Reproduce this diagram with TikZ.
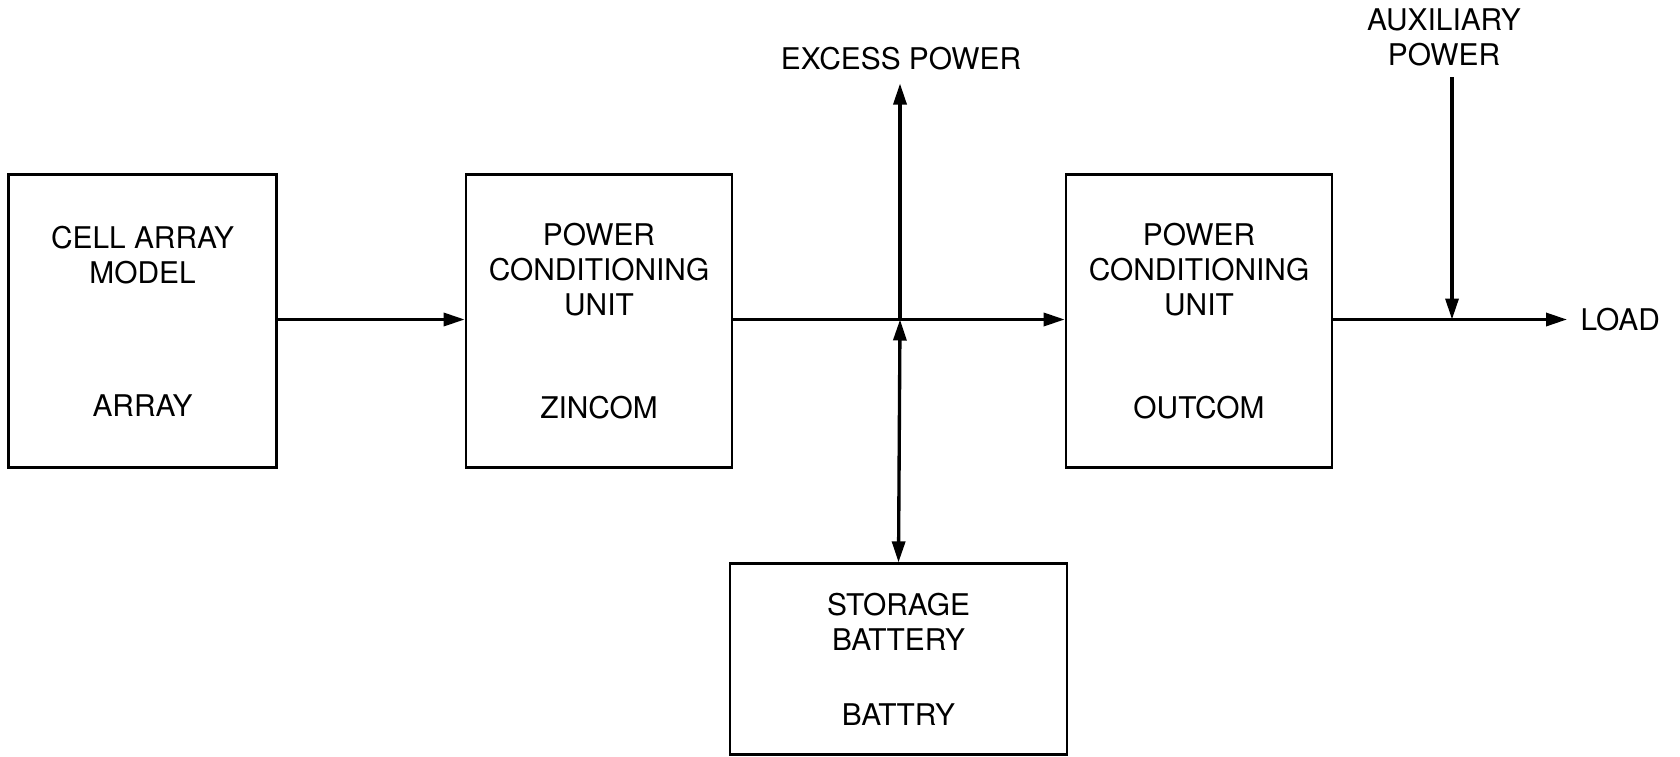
\documentclass[tikz,border=0pt]{standalone}
\usepackage{fontspec}
\setmainfont{TeX Gyre Heros}
\usepackage{tikz}
\usetikzlibrary{arrows.meta}

\begin{document}
\begin{tikzpicture}[
        unitbox/.style={draw, line width=1.5pt, align=center, inner sep=0pt},
        flow/.style={line width=1.9pt, -{Triangle[length=4.2mm, width=2.6mm]}},
        every node/.style={font=\fontsize{17}{20}\selectfont}
    ]
        \useasboundingbox (0,0) rectangle (33.6,-15.12);

        \node[unitbox, minimum width=5.36cm, minimum height=5.85cm] (array) at (2.85,-6.42)
            {CELL ARRAY\\MODEL\\[1.95cm]ARRAY};
        \node[unitbox, minimum width=5.32cm, minimum height=5.85cm] (zincom) at (11.98,-6.42)
            {POWER\\CONDITIONING\\UNIT\\[1.35cm]ZINCOM};
        \node[unitbox, minimum width=5.32cm, minimum height=5.85cm] (outcom) at (23.98,-6.42)
            {POWER\\CONDITIONING\\UNIT\\[1.35cm]OUTCOM};
        \node[unitbox, minimum width=6.74cm, minimum height=3.81cm] (battry) at (17.97,-13.18)
            {STORAGE\\BATTERY\\[0.8cm]BATTRY};

        \coordinate (junc) at (18.0,-6.39);
        \coordinate (tap) at (29.04,-6.39);
        \coordinate (excess) at (18.0,-1.67);
        \coordinate (aux) at (29.04,-1.54);
        \coordinate (load) at (31.34,-6.39);

        \node at (18.02,-1.18) (xslabel) {EXCESS POWER};
        \node at (28.88,-0.75)[align=center] (auxlabel) {AUXILIARY\\POWER};
        \node at (load)[anchor=west, xshift=1.5mm] (loadlabel) {LOAD};

        \draw[flow] (array.east |- junc) -- (zincom.west |- junc);
        \draw[flow] (zincom.east |- junc) -- (outcom.west |- junc);
        \draw[flow] (junc) -- (excess);
        \draw[flow, {Triangle[length=4.2mm, width=2.6mm]}-{Triangle[length=4.2mm, width=2.6mm]}] (junc) -- (battry.north);
        \draw[flow] (outcom.east |- junc) -- (load);
        \draw[flow] (aux) -- (tap);
    \end{tikzpicture}
\end{document}
